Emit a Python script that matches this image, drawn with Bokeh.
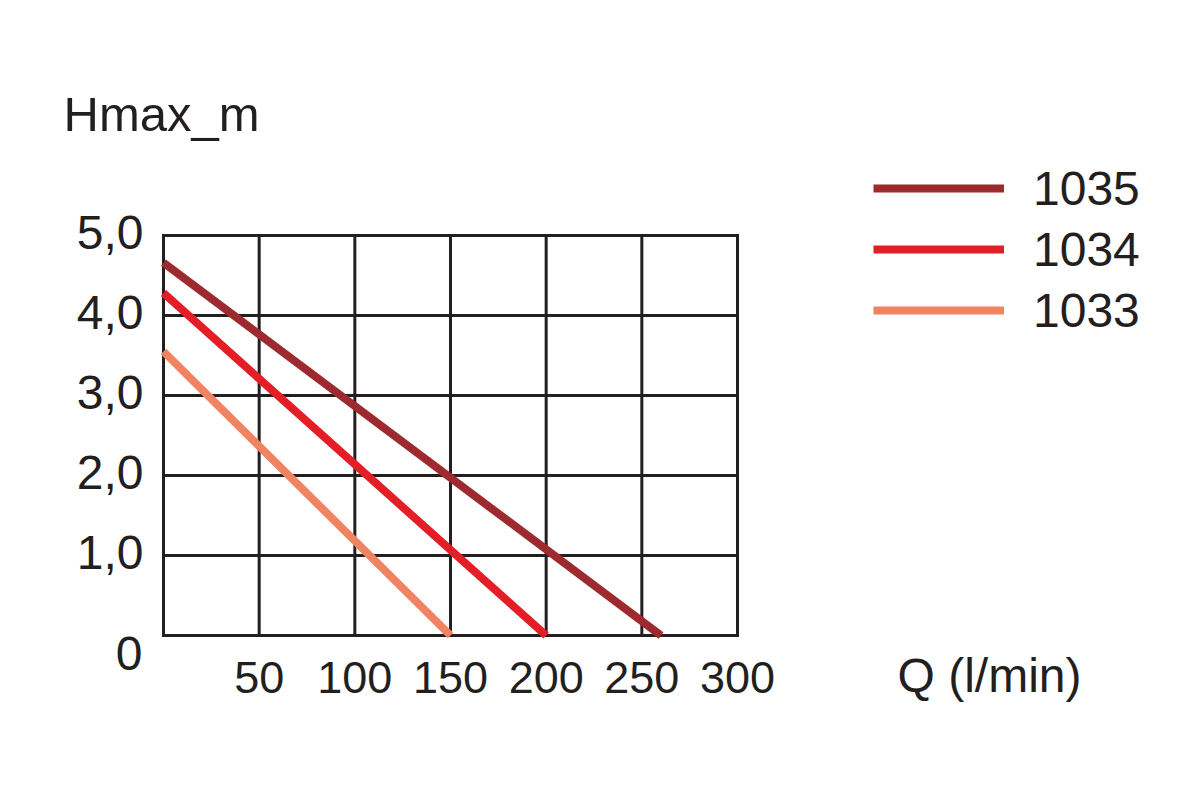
from bokeh.plotting import figure
from bokeh.models import Range1d, Legend, LegendItem, ColumnDataSource
from bokeh.core.properties import value
from bokeh.embed import file_html
from bokeh.resources import INLINE

# ---- data ----
series_names = ["1035", "1034", "1033"]
q_1035 = [0, 260]
h_1035 = [4.66, 0.0]
q_1034 = [0, 200]
h_1034 = [4.28, 0.0]
q_1033 = [0, 150]
h_1033 = [3.55, 0.0]
colors = ["#9c2a2f", "#e31e26", "#f08462"]
x_ticks = [50, 100, 150, 200, 250, 300]
x_tick_labels = ["50", "100", "150", "200", "250", "300"]
y_ticks = [1, 2, 3, 4, 5]
y_tick_labels = ["1,0", "2,0", "3,0", "4,0", "5,0"]
x_grid = [0, 50, 100, 150, 200, 250, 300]
y_grid = [0, 1, 2, 3, 4, 5]
q_min, q_max = 0, 300
h_min, h_max = 0, 5

FONT = "Liberation Sans"
INK = "#231f20"

W, H = 1184, 784
# chart box (pixels) inside the canvas
BOX_L, BOX_R, BOX_T, BOX_B = 163, 737, 235, 635
sx = (BOX_R - BOX_L) / (q_max - q_min)
sy = (BOX_B - BOX_T) / (h_max - h_min)

p = figure(width=W, height=H, output_backend="svg", toolbar_location=None,
           x_axis_location=None, y_axis_location=None,
           x_range=Range1d(q_min - BOX_L / sx, q_min + (W - BOX_L) / sx),
           y_range=Range1d(h_min - (H - BOX_B) / sy, h_min + BOX_B / sy),
           min_border=0)
p.background_fill_color = "white"
p.border_fill_color = "white"
p.outline_line_color = None
for g in p.grid:
    g.visible = False

# grid lines limited to the chart box
p.segment(x0=x_grid, y0=[h_min] * len(x_grid), x1=x_grid, y1=[h_max] * len(x_grid),
          line_color=INK, line_width=3, line_cap="square")
p.segment(x0=[q_min] * len(y_grid), y0=y_grid, x1=[q_max] * len(y_grid), y1=y_grid,
          line_color=INK, line_width=3, line_cap="square")

# data lines
r1 = p.line(q_1035, h_1035, line_color=colors[0], line_width=8)
r2 = p.line(q_1034, h_1034, line_color=colors[1], line_width=8)
r3 = p.line(q_1033, h_1033, line_color=colors[2], line_width=8)

DY = -20  # baseline correction

# tick labels
xs = ColumnDataSource(dict(x=x_ticks, y=[h_min] * len(x_ticks), t=x_tick_labels))
p.text(x="x", y="y", text="t", source=xs, text_font=value(FONT), text_font_size="45px",
       text_color=INK, text_align="center", text_baseline="alphabetic", y_offset=62 + DY)
ys = ColumnDataSource(dict(x=[q_min] * len(y_ticks), y=y_ticks, t=y_tick_labels))
p.text(x="x", y="y", text="t", source=ys, text_font=value(FONT), text_font_size="48px",
       text_color=INK, text_align="right", text_baseline="alphabetic", x_offset=-20, y_offset=17 + DY)
p.text(x=[q_min], y=[h_min], text=["0"], text_font=value(FONT), text_font_size="48px",
       text_color=INK, text_align="right", text_baseline="alphabetic", x_offset=-21, y_offset=38 + DY)

# axis titles
p.text(x=[q_min], y=[h_max], text=["Hmax_m"], text_font=value(FONT), text_font_size="49px",
       text_color=INK, text_align="left", text_baseline="alphabetic", x_offset=-100, y_offset=-102 + DY)
p.text(x=[q_max], y=[h_min], text=["Q (l/min)"], text_font=value(FONT), text_font_size="48px",
       text_color=INK, text_align="left", text_baseline="alphabetic", x_offset=160, y_offset=60 + DY)

# legend
legend = Legend(items=[LegendItem(label=series_names[0], renderers=[r1]),
                       LegendItem(label=series_names[1], renderers=[r2]),
                       LegendItem(label=series_names[2], renderers=[r3])],
                location=(873, 446), orientation="vertical",
                glyph_width=131, glyph_height=56, label_height=56,
                spacing=5, padding=0, margin=0, label_standoff=29,
                label_text_font=FONT, label_text_font_size="48px",
                label_text_color=INK, border_line_color=None,
                background_fill_alpha=0)
p.add_layout(legend, "center")

open("out.html", "w").write(file_html(p, INLINE))
